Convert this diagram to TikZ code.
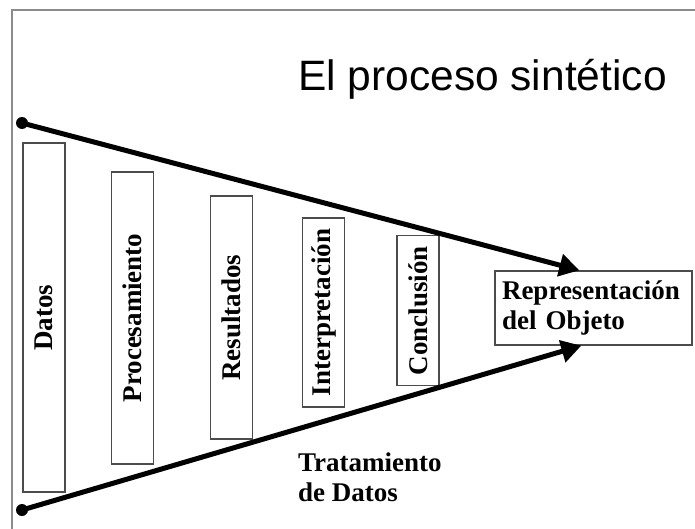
\documentclass[tikz,border=0pt]{standalone}
\usepackage{fontspec}
\usepackage{graphicx}
\setmainfont{Liberation Serif}
\newfontfamily\titlefont{Liberation Sans}
\usetikzlibrary{arrows.meta,calc}
\begin{document}
\begin{tikzpicture}[x=1pt,y=-1pt,
  framestyle/.style={draw=black!45,line width=2pt},
  stagebox/.style={draw=black!70,line width=1.3pt,inner sep=0pt,
    font=\fontsize{27}{30}\selectfont\bfseries},
  bigarrow/.style={line width=5pt,-{Triangle[length=20pt,width=22pt]},shorten >=0pt},
  lbl/.style={font=\fontsize{27}{30}\selectfont\bfseries,inner sep=0pt,align=left}
]
\useasboundingbox[fill=white] (0,0) rectangle (695,529);
% frame
\coordinate (fa) at (12,529);
\coordinate (fb) at (12,10);
\coordinate (fc) at (695,10);
\draw[framestyle] (fa) -- (fb) -- (fc);
% title
\node[anchor=base west,inner sep=0pt,font=\titlefont\fontsize{42.5}{48}\selectfont] (title) at (298,91) {El proceso sint\'etico};
% stage boxes
\node[stagebox,minimum width=42,minimum height=349] (datos) at (44,317.5) {\rotatebox{90}{Datos}};
\node[stagebox,minimum width=42,minimum height=292] (proc) at (132.5,318) {\rotatebox{90}{Procesamiento}};
\node[stagebox,minimum width=42,minimum height=243] (res) at (231.5,317.5) {\rotatebox{90}{Resultados}};
\node[stagebox,minimum width=42,minimum height=189] (interp) at (323.5,312.5) {\rotatebox{90}{Interpretaci\'on}};
\node[stagebox,minimum width=42,minimum height=150] (concl) at (418,310.5) {\rotatebox{90}{Conclusi\'on}};
% target box
\node[draw=black!70,line width=1.3pt,minimum width=197,minimum height=74,
  text width=183,align=left,inner sep=0pt,
  font=\fontsize{27}{30}\selectfont\bfseries] (rep) at (593.5,308) {Representaci\'on\\del Objeto};
% start points
\coordinate (p1) at (22,123);
\coordinate (p2) at (22,510);
\fill (p1) circle (6pt);
\fill (p2) circle (6pt);
\draw[bigarrow] (p1) -- ([xshift=85pt]rep.north west);
\draw[bigarrow] (p2) -- ([xshift=87pt]rep.south west);
% bottom label
\node[lbl,anchor=base west] (trat) at (298,501) {Tratamiento\\de Datos};
\end{tikzpicture}
\end{document}
